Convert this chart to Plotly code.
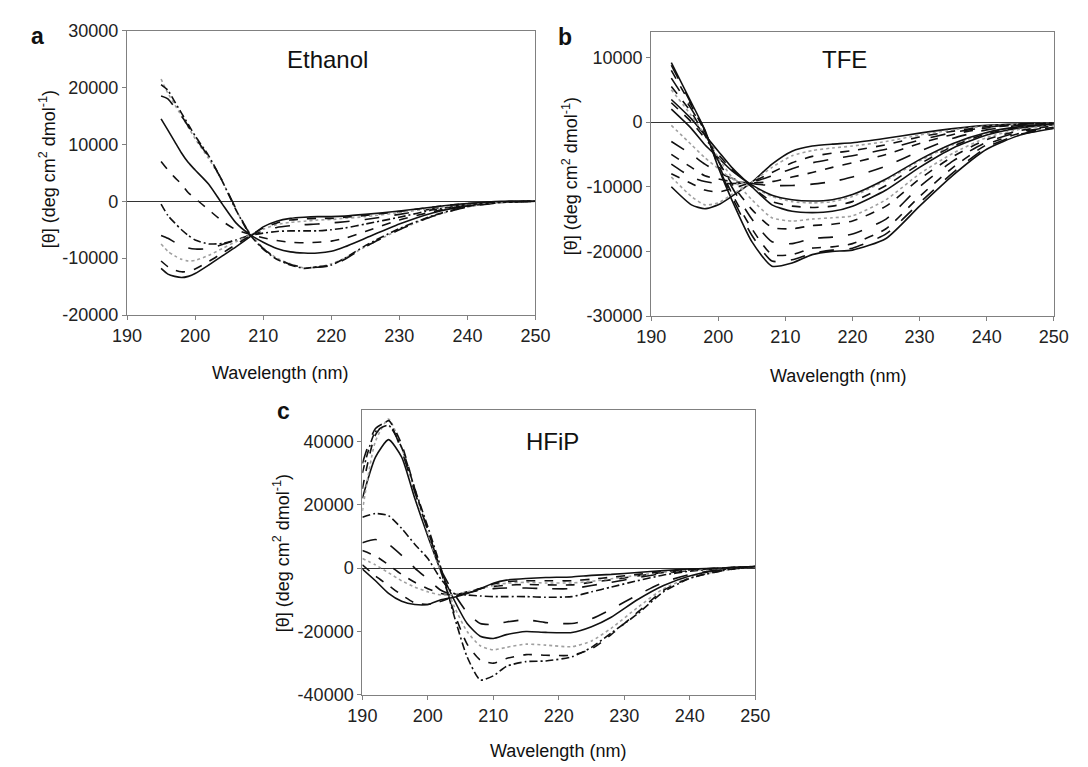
import plotly.graph_objects as go

# ---- panel a: Ethanol ----
eth_x = [195, 196, 197, 198, 199, 200, 202, 204, 206, 208, 210, 212, 214, 216, 218, 220, 222, 225, 230, 235, 240, 245, 250]
eth_1 = [21500, 19000, 17000, 15000, 13000, 11000, 7500, 3500, -1500, -5500, -8200, -10000, -11000, -11700, -11600, -11000, -10000, -8000, -5000, -2600, -1000, -200, 0]
eth_2 = [20500, 19500, 17500, 15500, 13500, 11500, 8000, 3500, -1500, -5800, -8400, -10200, -11200, -11800, -11500, -11200, -10000, -7800, -4800, -2500, -900, -200, 0]
eth_3 = [18500, 18000, 16500, 15000, 13200, 11200, 7800, 3600, -1300, -5700, -8300, -10100, -11100, -11600, -11600, -11300, -10200, -8000, -5000, -2600, -1000, -200, 0]
eth_4 = [14500, 12500, 10500, 8500, 6800, 5500, 3000, -500, -3800, -5800, -7200, -8300, -8900, -9100, -9100, -8800, -8000, -6500, -4000, -2000, -800, -100, 0]
eth_5 = [7000, 5500, 4200, 3000, 1500, 500, -1500, -3500, -5000, -5800, -6400, -6900, -7200, -7300, -7200, -7000, -6500, -5300, -3300, -1800, -700, -100, 0]
eth_6 = [-500, -2500, -3800, -5000, -6000, -6800, -7500, -7400, -6800, -6000, -5600, -5300, -5200, -5200, -5200, -5000, -4700, -4000, -2800, -1500, -600, -100, 0]
eth_7 = [-6000, -6500, -7200, -7800, -8200, -8400, -8300, -7600, -6800, -6000, -5200, -4600, -4300, -4100, -4000, -3800, -3600, -3200, -2300, -1300, -500, -100, 0]
eth_8 = [-7500, -8800, -9600, -10200, -10500, -10400, -9500, -8300, -7100, -6000, -4900, -4100, -3700, -3500, -3300, -3200, -3000, -2700, -2000, -1200, -500, -100, 0]
eth_9 = [-10500, -11500, -12100, -12400, -12300, -11900, -10600, -9100, -7600, -6100, -4700, -3800, -3300, -3100, -3000, -3000, -2800, -2500, -1800, -1000, -400, -100, 0]
eth_10 = [-11800, -12800, -13200, -13400, -13200, -12700, -11200, -9600, -8000, -6300, -4500, -3500, -3000, -2800, -2700, -2700, -2600, -2300, -1700, -1000, -400, 0, 0]
eth_styles = ["dot", "longdashdot", "longdash", "solid", "dash", "longdashdot", "longdash", "dot", "dash", "solid"]
eth_yticks = [-20000, -10000, 0, 10000, 20000, 30000]

# ---- panel b: TFE ----
tfe_x = [193, 196, 198, 200, 202, 205, 208, 211, 214, 217, 220, 225, 230, 235, 240, 245, 250]
tfe_1 = [-10000, -12800, -13400, -12800, -11500, -9300, -6500, -4500, -3700, -3400, -3200, -2500, -1700, -1000, -500, -300, -200]
tfe_2 = [-8500, -11500, -12800, -12500, -11200, -9300, -7000, -5200, -4400, -4000, -3700, -3000, -2000, -1200, -600, -300, -200]
tfe_3 = [-8000, -9500, -10500, -10800, -10300, -9300, -7800, -6300, -5300, -4800, -4400, -3500, -2300, -1400, -700, -300, -200]
tfe_4 = [-6500, -8500, -9200, -9500, -9500, -9300, -8300, -7200, -6300, -5700, -5200, -4200, -2800, -1600, -800, -300, -200]
tfe_5 = [-5000, -7000, -8300, -8800, -9200, -9400, -9200, -8500, -7800, -7000, -6300, -5000, -3300, -1900, -900, -400, -200]
tfe_6 = [-3000, -5000, -6500, -7700, -8700, -9500, -9800, -9800, -9600, -9200, -8500, -6800, -4500, -2500, -1200, -500, -300]
tfe_7 = [-500, -3500, -5500, -7200, -8700, -10000, -11500, -12300, -12500, -12300, -11500, -9000, -6000, -3500, -1700, -800, -400]
tfe_8 = [2000, -1000, -3500, -5500, -7500, -9700, -11300, -12000, -12200, -12000, -11200, -8800, -5800, -3300, -1600, -700, -300]
tfe_9 = [3000, 0, -2500, -5000, -7300, -10000, -12300, -13000, -13200, -13000, -12300, -9800, -6500, -3700, -1800, -800, -300]
tfe_10 = [3500, 500, -2000, -4500, -7000, -10000, -12800, -13800, -14000, -13800, -13000, -10500, -7000, -4000, -2000, -900, -400]
tfe_11 = [5000, 1000, -2000, -5500, -8500, -12000, -14800, -15300, -15000, -14800, -14500, -12000, -8000, -4800, -2400, -1100, -500]
tfe_12 = [5500, 1500, -2000, -6000, -9500, -13500, -16300, -16500, -16000, -15800, -15300, -13000, -8800, -5300, -2700, -1300, -600]
tfe_13 = [6800, 2000, -1500, -6000, -10000, -15000, -18500, -18800, -18000, -17800, -17300, -15000, -10000, -6000, -3100, -1500, -700]
tfe_14 = [8000, 2500, -1500, -6500, -11000, -16500, -20500, -20500, -19500, -19300, -18800, -16500, -11500, -7000, -3500, -1700, -800]
tfe_15 = [8800, 2800, -1300, -6800, -11500, -17500, -21500, -21300, -20300, -19800, -19500, -17300, -12500, -7800, -3900, -1900, -900]
tfe_16 = [9200, 3000, -1200, -7000, -12000, -18500, -22300, -21800, -20500, -20000, -19800, -18000, -13000, -8200, -4200, -2000, -1000]
tfe_styles = ["solid", "dot", "dash", "longdash", "dash", "longdash", "dot", "solid", "dash", "solid",
              "dot", "dash", "longdash", "dash", "longdash", "solid"]
tfe_yticks = [-30000, -20000, -10000, 0, 10000]

# ---- panel c: HFiP ----
hfip_x = [190, 192, 194, 196, 198, 200, 202, 204, 206, 208, 210, 212, 215, 218, 222, 225, 228, 232, 236, 240, 245, 250]
hfip_1 = [22000, 35000, 40500, 35000, 22000, 10000, -1000, -10000, -17500, -21500, -22200, -21000, -20000, -20300, -20300, -18500, -15500, -10000, -5500, -2500, -500, 500]
hfip_2 = [18000, 40000, 47000, 38000, 24000, 11000, -1500, -12000, -20000, -24500, -25800, -25000, -24000, -24300, -24800, -23000, -19000, -12500, -6500, -3000, -700, 500]
hfip_3 = [25000, 42000, 46500, 39000, 25000, 12000, -1000, -14000, -24000, -29000, -30000, -28500, -27300, -27500, -27500, -25500, -21000, -14000, -7000, -3200, -800, 500]
hfip_4 = [30000, 43000, 45000, 38000, 25000, 13000, 0, -15000, -28000, -35300, -34000, -31000, -29500, -29300, -28000, -25000, -20500, -14500, -7500, -3300, -800, 500]
hfip_5 = [33000, 44000, 46000, 37000, 24000, 12000, -500, -8000, -14000, -17500, -17800, -17000, -16300, -17200, -17500, -16000, -13000, -8500, -4500, -2000, -400, 500]
hfip_6 = [16000, 17200, 16500, 12500, 7500, 3000, -3500, -8000, -8500, -8800, -9000, -9000, -9000, -9200, -9000, -7500, -6000, -4000, -2200, -1000, 0, 500]
hfip_7 = [8000, 9000, 7500, 4000, 0, -3500, -7000, -8500, -7800, -7000, -6500, -6300, -6300, -6500, -6500, -5500, -4500, -3000, -1700, -800, 0, 500]
hfip_8 = [5500, 3800, 1000, -2000, -4500, -6500, -8000, -8500, -7500, -6500, -5800, -5400, -5200, -5300, -5300, -4500, -3700, -2500, -1400, -700, 0, 500]
hfip_9 = [3000, 1000, -1500, -4000, -6000, -7500, -8500, -8300, -7500, -6500, -5500, -4800, -4500, -4700, -4700, -4200, -3400, -2300, -1300, -600, 0, 500]
hfip_10 = [1000, -2500, -5500, -8500, -11000, -11500, -10500, -9000, -7800, -6500, -5000, -4300, -4000, -4000, -4000, -3500, -2900, -2000, -1100, -500, 0, 500]
hfip_11 = [-300, -4000, -8000, -10500, -11500, -11500, -10000, -9200, -8000, -6500, -4800, -3800, -3300, -3000, -2800, -2300, -2000, -1400, -800, -300, 0, 500]
hfip_styles = ["solid", "dot", "dash", "longdashdot", "longdash", "longdashdot", "longdash", "dash", "dot", "dash", "solid"]
hfip_yticks = [-40000, -20000, 0, 20000, 40000]

x_ticks = [190, 200, 210, 220, 230, 240, 250]
y_title = "[θ] (deg cm<sup>2</sup> dmol<sup>-1</sup>)"
FONT = "Liberation Sans, Arial, sans-serif"
W, H = 1088, 767

fig = go.Figure()


def add_curves(xs, curves, styles, axis):
    for ys, st in zip(curves, styles):
        color = "#a0a0a0" if st == "dot" else "#111111"
        dash = "8px,3px,2px,3px" if st == "longdashdot" else st
        fig.add_trace(go.Scatter(
            x=xs, y=ys, mode="lines",
            line=dict(color=color, width=1.6, dash=dash, shape="spline", smoothing=0.6),
            xaxis="x" + axis, yaxis="y" + axis, showlegend=False, hoverinfo="skip"
        ))


add_curves(eth_x, [eth_1, eth_2, eth_3, eth_4, eth_5, eth_6, eth_7, eth_8, eth_9, eth_10], eth_styles, "")
add_curves(tfe_x, [tfe_1, tfe_2, tfe_3, tfe_4, tfe_5, tfe_6, tfe_7, tfe_8, tfe_9, tfe_10, tfe_11, tfe_12,
                   tfe_13, tfe_14, tfe_15, tfe_16], tfe_styles, "2")
add_curves(hfip_x, [hfip_1, hfip_2, hfip_3, hfip_4, hfip_5, hfip_6, hfip_7, hfip_8, hfip_9, hfip_10, hfip_11],
           hfip_styles, "3")


def px_x(a, b):
    return [a / W, b / W]


def px_y(top, bottom):
    return [1 - bottom / H, 1 - top / H]


def xax(dom, anchor):
    return dict(domain=dom, anchor=anchor, range=[190, 250], tickvals=x_ticks, showgrid=False,
                zeroline=False, showline=True, linecolor="#808080", linewidth=1.2, mirror=True,
                ticks="outside", ticklen=4, tickcolor="#808080",
                tickfont=dict(family=FONT, size=18, color="#222"))


def yax(dom, anchor, rng, ticks):
    # hyphen-minus labels, as in the original
    return dict(domain=dom, anchor=anchor, range=rng, tickvals=ticks, ticktext=[str(t) for t in ticks],
                showgrid=False, zeroline=True, zerolinecolor="#333", zerolinewidth=1,
                showline=True, linecolor="#808080", linewidth=1.2, mirror=True,
                ticks="outside", ticklen=4, tickcolor="#808080",
                tickfont=dict(family=FONT, size=18, color="#222"))


fig.update_layout(
    width=W, height=H, margin=dict(l=0, r=0, t=0, b=0),
    paper_bgcolor="white", plot_bgcolor="white",
    xaxis=xax(px_x(107, 527), "y"), yaxis=yax(px_y(13, 305), "x", [-20000, 30000], eth_yticks),
    xaxis2=xax(px_x(646, 1060), "y2"), yaxis2=yax(px_y(14, 306), "x2", [-30000, 14000], tfe_yticks),
    xaxis3=xax(px_x(349, 753), "y3"), yaxis3=yax(px_y(402, 695), "x3", [-40000, 50000], hfip_yticks),
)

# text placed in pixel positions
texts = [
    ("Ethanol", 313, 43, 24, 0, False),
    ("TFE", 845, 43, 24, 0, False),
    ("HFiP", 545, 435, 24, 0, False),
    ("a", 15, 18, 23, 0, True),
    ("b", 557, 19, 23, 0, True),
    ("c", 268, 404, 23, 0, True),
    ("Wavelength (nm)", 264, 365, 18, 0, False),
    ("Wavelength (nm)", 838, 368, 18, 0, False),
    ("Wavelength (nm)", 550, 753, 18, 0, False),
    (y_title, 26, 155, 18, -90, False),
    (y_title, 563, 162, 18, -90, False),
    (y_title, 266, 550, 18, -90, False),
]
for t, x, y, size, ang, bold in texts:
    fig.add_annotation(
        text="<b>%s</b>" % t if bold else t, x=x / W, y=1 - y / H, xref="paper", yref="paper",
        showarrow=False, textangle=ang, xanchor="center", yanchor="middle",
        font=dict(family=FONT, size=size, color="#111")
    )

fig.write_html("out.html")
